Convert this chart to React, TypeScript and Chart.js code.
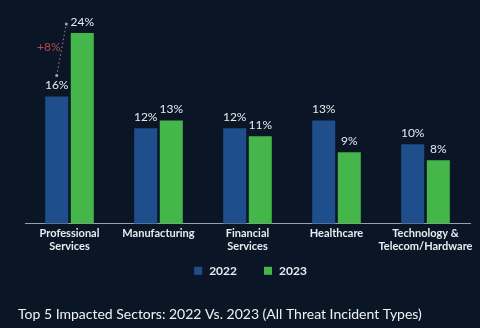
import React, { useEffect, useRef } from "react";
import { Chart, registerables } from "chart.js";

Chart.register(...registerables);

const categories: string[][] = [
  ["Professional", "Services"],
  ["Manufacturing"],
  ["Financial", "Services"],
  ["Healthcare"],
  ["Technology &", "Telecom/Hardware"],
];
const values2022: number[] = [16, 12, 12, 13, 10];
const values2023: number[] = [24, 13, 11, 9, 8];
const seriesNames: string[] = ["2022", "2023"];
const changeLabel = "+8%";
const titleText = "Top 5 Impacted Sectors: 2022 Vs. 2023 (All Threat Incident Types)";

const BG = "#0a1626";
const BLUE = "#1f4e8c";
const GREEN = "#45b649";
const FONT = "Lato, 'Open Sans', sans-serif";

const labelsPlugin = {
  id: "valueLabels",
  afterDatasetsDraw(chart: any) {
    const ctx = chart.ctx;
    ctx.save();
    ctx.font = `12px ${FONT}`;
    ctx.fillStyle = "#e6e9ee";
    ctx.textAlign = "center";
    ctx.textBaseline = "bottom";
    chart.data.datasets.forEach((ds: any, di: number) => {
      const meta = chart.getDatasetMeta(di);
      meta.data.forEach((bar: any, i: number) => {
        ctx.fillText(`${ds.data[i]}%`, bar.x, bar.y - 5);
      });
    });
    // annotation between first pair
    const b0 = chart.getDatasetMeta(0).data[0];
    const b1 = chart.getDatasetMeta(1).data[0];
    const x0 = b0.x + 0;
    const y0 = b0.y - 21;
    const x1 = b1.x - 16;
    const y1 = b1.y - 9;
    ctx.strokeStyle = "#8a8f9a";
    ctx.lineWidth = 1;
    ctx.setLineDash([1.5, 2.5]);
    ctx.beginPath();
    ctx.moveTo(x0, y0);
    ctx.lineTo(x1, y1);
    ctx.stroke();
    ctx.setLineDash([]);
    ctx.fillStyle = "#a0a4ae";
    [[x0, y0], [x1, y1]].forEach(([x, y]) => {
      ctx.beginPath();
      ctx.arc(x, y, 1.5, 0, Math.PI * 2);
      ctx.fill();
    });
    ctx.fillStyle = "#b8474b";
    ctx.font = `12px ${FONT}`;
    ctx.textAlign = "right";
    ctx.textBaseline = "middle";
    ctx.fillText(changeLabel, (x0 + x1) / 2 - 1, (y0 + y1) / 2 - 3);
    ctx.restore();
  },
};

const legendPlugin = {
  id: "customLegend",
  afterDraw(chart: any) {
    const ctx = chart.ctx;
    const area = chart.chartArea;
    ctx.save();
    ctx.font = `bold 12px ${FONT}`;
    ctx.textBaseline = "middle";
    ctx.textAlign = "left";
    const box = 8;
    const gapBoxText = 7;
    const gapItems = 27;
    const items = chart.data.datasets.map((ds: any) => ({
      text: ds.label,
      color: ds.backgroundColor,
      w: box + gapBoxText + ctx.measureText(ds.label).width,
    }));
    const total = items.reduce((s: number, it: any) => s + it.w, 0) + gapItems * (items.length - 1);
    let x = (area.left + area.right) / 2 + 3 - total / 2;
    const y = area.bottom + 47;
    items.forEach((it: any) => {
      ctx.fillStyle = it.color;
      ctx.fillRect(x, y - box / 2, box, box);
      ctx.fillStyle = "#e8ebef";
      ctx.fillText(it.text, x + box + gapBoxText, y + 0.5);
      x += it.w + gapItems;
    });
    ctx.restore();
  },
};

const bgPlugin = {
  id: "bg",
  beforeDraw(chart: any) {
    const ctx = chart.ctx;
    ctx.save();
    ctx.fillStyle = BG;
    ctx.fillRect(0, 0, chart.width, chart.height);
    ctx.restore();
  },
};

export default function App() {
  const ref = useRef<HTMLCanvasElement | null>(null);
  useEffect(() => {
    if (!ref.current) return;
    const chart = new Chart(ref.current, {
      type: "bar",
      data: {
        labels: categories,
        datasets: [
          {
            label: seriesNames[0],
            data: values2022,
            backgroundColor: BLUE,
            categoryPercentage: 0.575,
            barPercentage: 0.9,
          },
          {
            label: seriesNames[1],
            data: values2023,
            backgroundColor: GREEN,
            categoryPercentage: 0.575,
            barPercentage: 0.9,
          },
        ],
      },
      options: {
        animation: false,
        responsive: false,
        maintainAspectRatio: false,
        layout: { padding: { left: 18, right: 10, top: 17, bottom: 2 } },
        scales: {
          x: {
            grid: { display: false, drawTicks: false, tickLength: 0 },
            border: { display: true, color: "#9aa0aa", width: 1 },
            ticks: {
              color: "#e8ebef",
              font: { family: FONT, size: 11, weight: "bold" },
              padding: 3,
              maxRotation: 0,
              autoSkip: false,
            },
          },
          y: {
            min: 0,
            max: 26,
            display: true,
            grid: { display: false },
            border: { display: false },
            ticks: { display: false },
            afterFit: (scale: any) => {
              scale.width = 7;
            },
          },
        },
        plugins: {
          legend: { display: false },
          title: {
            display: true,
            text: titleText,
            position: "bottom",
            align: "start",
            color: "#f0f2f5",
            font: { family: FONT, size: 14, weight: "normal" },
            padding: { top: 50, bottom: 3 },
          },
          tooltip: { enabled: false },
        },
      },
      plugins: [bgPlugin, labelsPlugin, legendPlugin],
    });
    return () => chart.destroy();
  }, []);
  return (
    <div style={{ position: "fixed", left: 0, top: 0, width: 480, height: 328, background: BG }}>
      <canvas ref={ref} width={480} height={328} style={{ width: 480, height: 328 }} />
    </div>
  );
}
